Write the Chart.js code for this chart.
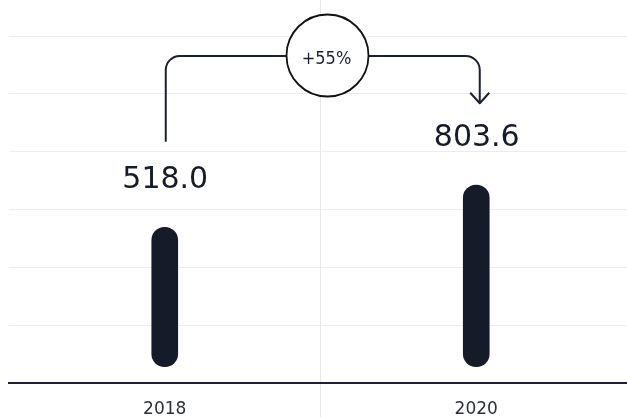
<!DOCTYPE html>
<html>
<head>
<meta charset="utf-8">
<script src="https://cdn.jsdelivr.net/npm/chart.js@4/dist/chart.umd.min.js"></script>
<style>
  html, body { margin: 0; padding: 0; background: #ffffff; overflow: hidden; }
  #wrap { width: 632px; height: 417px; position: relative; }
</style>
</head>
<body>
<div id="wrap"><canvas id="c"></canvas></div>
<script>
// ---- data ----
const categories = ['2018', '2020'];
const values = [518.0, 803.6];
const barBase = [-422, -422];
const changeLabels = ['+55%'];
const gridValues = [-532, -142, 248, 638, 1028, 1418, 1808];

const BAR = '#151b29';
const INK = '#1b2030';

const annotate = {
  id: 'annotate',
  afterDatasetsDraw(chart) {
    const ctx = chart.ctx;
    const bars = chart.getDatasetMeta(0).data;
    ctx.save();
    // value labels
    ctx.fillStyle = '#161b2b';
    ctx.font = '30px "DejaVu Sans"';
    ctx.textAlign = 'center';
    ctx.textBaseline = 'alphabetic';
    bars.forEach((b, i) => {
      ctx.fillText(values[i].toFixed(1), b.x + 0.5, b.y - 39);
    });
    // bracket arrow
    const xL = bars[0].x + 1, yB = bars[0].y - 85.6;
    const xR = bars[1].x + 3.5, yT = bars[1].y - 81.7;
    const yH = 56, r = 14;
    ctx.strokeStyle = INK;
    ctx.lineWidth = 2;
    ctx.lineJoin = 'round';
    ctx.beginPath();
    ctx.moveTo(xL, yB);
    ctx.lineTo(xL, yH + r);
    ctx.arcTo(xL, yH, xL + r, yH, r);
    ctx.lineTo(xR - r, yH);
    ctx.arcTo(xR, yH, xR, yH + r, r);
    ctx.lineTo(xR, yT);
    ctx.stroke();
    ctx.beginPath();
    ctx.moveTo(xR - 9.5, yT - 10.5);
    ctx.lineTo(xR, yT);
    ctx.lineTo(xR + 9.5, yT - 10.5);
    ctx.stroke();
    // circle
    const cx = (bars[0].x + bars[1].x) / 2 + 7, cy = 55.5;
    ctx.beginPath();
    ctx.arc(cx, cy, 41, 0, Math.PI * 2);
    ctx.fillStyle = '#ffffff';
    ctx.fill();
    ctx.strokeStyle = '#111111';
    ctx.lineWidth = 1.8;
    ctx.stroke();
    ctx.fillStyle = INK;
    ctx.font = '18px "DejaVu Sans Condensed", "DejaVu Sans"';
    ctx.textBaseline = 'alphabetic';
    ctx.fillText(changeLabels[0], cx - 1, 64);
    ctx.restore();
  }
};

new Chart(document.getElementById('c'), {
  type: 'bar',
  data: {
    labels: categories,
    datasets: [{
      data: values.map((v, i) => [barBase[i], v]),
      backgroundColor: BAR,
      barThickness: 26,
      borderRadius: 13,
      borderSkipped: false
    }]
  },
  options: {
    responsive: true,
    maintainAspectRatio: false,
    animation: false,
    layout: { padding: { left: 9, right: 0, top: 0, bottom: 0 } },
    plugins: { legend: { display: false }, tooltip: { enabled: false } },
    scales: {
      x: {
        offset: true,
        grid: {
          offset: true,
          drawOnChartArea: true,
          drawTicks: true,
          tickLength: 34,
          color: (c) => c.index === 1 ? '#e8e8e8' : 'rgba(0,0,0,0)',
          lineWidth: 1
        },
        border: { display: true, color: '#1c2030', width: 2 },
        ticks: {
          color: '#2b2f3a',
          font: { family: 'DejaVu Sans', size: 17, lineHeight: 0.894 },
          padding: -7.6,
          crossAlign: 'far',
          maxRotation: 0
        }
      },
      y: {
        min: -532,
        max: 2051,
        afterBuildTicks: (s) => { s.ticks = gridValues.map(v => ({ value: v })); },
        grid: {
          drawTicks: false,
          color: (c) => c.index === 0 ? 'rgba(0,0,0,0)' : '#ececec',
          lineWidth: 1
        },
        border: { display: false },
        ticks: { display: false }
      }
    }
  },
  plugins: [annotate]
});
</script>
</body>
</html>
